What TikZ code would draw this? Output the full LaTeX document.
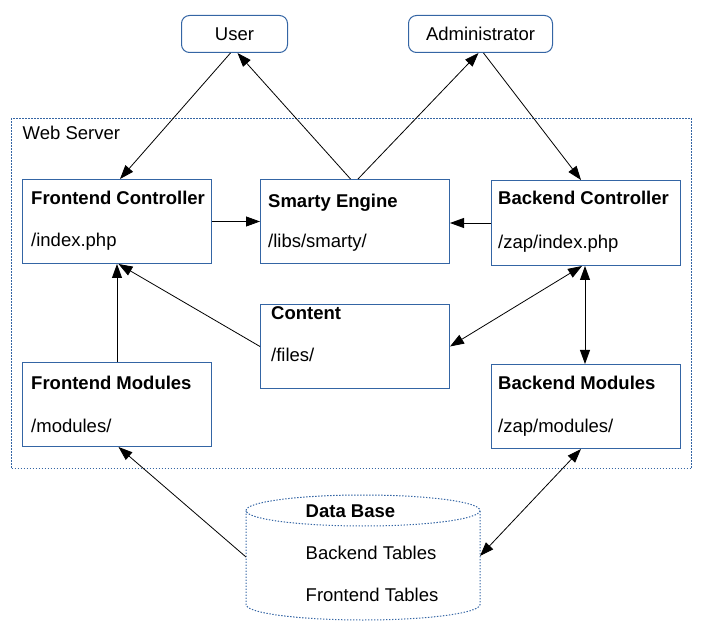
\documentclass[tikz,border=0pt]{standalone}
\usepackage{fontspec}
\setmainfont{Liberation Sans}
\usetikzlibrary{arrows.meta,calc}
\definecolor{bxblue}{RGB}{52,101,164}
\begin{document}
\begin{tikzpicture}[x=1pt,y=-1pt,
  every node/.style={font=\fontsize{18.5}{22}\selectfont},
  box/.style={draw=bxblue,line width=1pt,fill=white,anchor=north west,inner sep=0pt},
  actor/.style={draw=bxblue,line width=1pt,rounded corners=8pt,anchor=north west,inner sep=0pt},
  lbl/.style={anchor=base west,inner sep=0pt},
  ttl/.style={anchor=base west,inner sep=0pt,font=\fontsize{18.5}{22}\selectfont\bfseries},
  dotline/.style={draw=bxblue,line width=1pt,dash pattern=on 1.4pt off 1.6pt},
  arr/.style={draw=black,line width=0.8pt,-{Triangle[length=14pt,width=10pt]}},
  darr/.style={draw=black,line width=0.8pt,{Triangle[length=14pt,width=10pt]}-{Triangle[length=14pt,width=10pt]}}]
\useasboundingbox (0,0) rectangle (702,636);
% web server container
\node[dotline,anchor=north west,minimum width=680pt,minimum height=350pt,inner sep=0pt] (ws) at (11,118) {};
\node[lbl] (wsl) at (22.5,140) {Web Server};
% actors
\node[actor,minimum width=106pt,minimum height=37pt] (user) at (181,15) {User};
\node[actor,minimum width=144pt,minimum height=37pt] (admin) at (408,15) {Administrator};
% boxes
\node[box,minimum width=189pt,minimum height=84pt] (fc) at (22,179) {};
\node[ttl] (fct) at (31,205) {Frontend Controller};
\node[lbl] (fcs) at (31,247) {/index.php};
\node[box,minimum width=189pt,minimum height=84pt] (smarty) at (260,179) {};
\node[ttl] (smt) at (268,208) {Smarty Engine};
\node[lbl] (sms) at (268,248) {/libs/smarty/};
\node[box,minimum width=189pt,minimum height=85pt] (bc) at (491,180) {};
\node[ttl] (bct) at (498,205) {Backend Controller};
\node[lbl] (bcs) at (498,249) {/zap/index.php};
\node[box,minimum width=189pt,minimum height=84pt] (content) at (260,304) {};
\node[ttl] (ctt) at (271,320) {Content};
\node[lbl] (cts) at (271,362) {/files/};
\node[box,minimum width=189pt,minimum height=84pt] (fm) at (22,362) {};
\node[ttl] (fmt) at (31,390) {Frontend Modules};
\node[lbl] (fms) at (31,432) {/modules/};
\node[box,minimum width=189pt,minimum height=84pt] (bm) at (491,364) {};
\node[ttl] (bmt) at (498,390) {Backend Modules};
\node[lbl] (bms) at (498,432) {/zap/modules/};
% database cylinder
\draw[dotline] (363,510.5) ellipse[x radius=117, y radius=15.5];
\draw[dotline] (246,510.5) -- (246,604.5)
  .. controls (246,613.06) and (298.38,620) .. (363,620)
  .. controls (427.62,620) and (480,613.06) .. (480,604.5) -- (480,510.5);
\coordinate (dbl) at (246,557);
\coordinate (dbr) at (480,556);
\node[ttl] (dbt) at (305.5,517.5) {Data Base};
\node[lbl] (dbb) at (305.5,559.5) {Backend Tables};
\node[lbl] (dbf) at (305.5,601.5) {Frontend Tables};
% connectors
\draw[arr] ($(user.south)+(-4,0)$) -- ($(fc.north)+(3,0)$);
\draw[arr] ($(smarty.north)+(-4.5,0)$) -- ($(user.south)+(3,0)$);
\draw[arr] ($(smarty.north)+(3,0)$) -- ($(admin.south)+(-2,0)$);
\draw[arr] ($(admin.south)+(3,0)$) -- ($(bc.north)+(-5,0)$);
\draw[arr] (fc.east) -- (smarty.west);
\draw[arr] (bc.west) -- (bc.west -| smarty.east);
\draw[arr] (content.west) -- ($(fc.south)+(1.5,0)$);
\draw[arr] (fm.north) -- (fm.north |- fc.south);
\draw[darr] (content.east) -- ($(bc.south)+(-4,0)$);
\draw[darr] ($(bc.south)+(-1,0)$) -- ($(bm.north)+(-1,0)$);
\draw[arr] (dbl) -- ($(fm.south)+(1.5,0)$);
\draw[darr] (dbr) -- ($(bm.south)+(-5,0)$);
\end{tikzpicture}
\end{document}
